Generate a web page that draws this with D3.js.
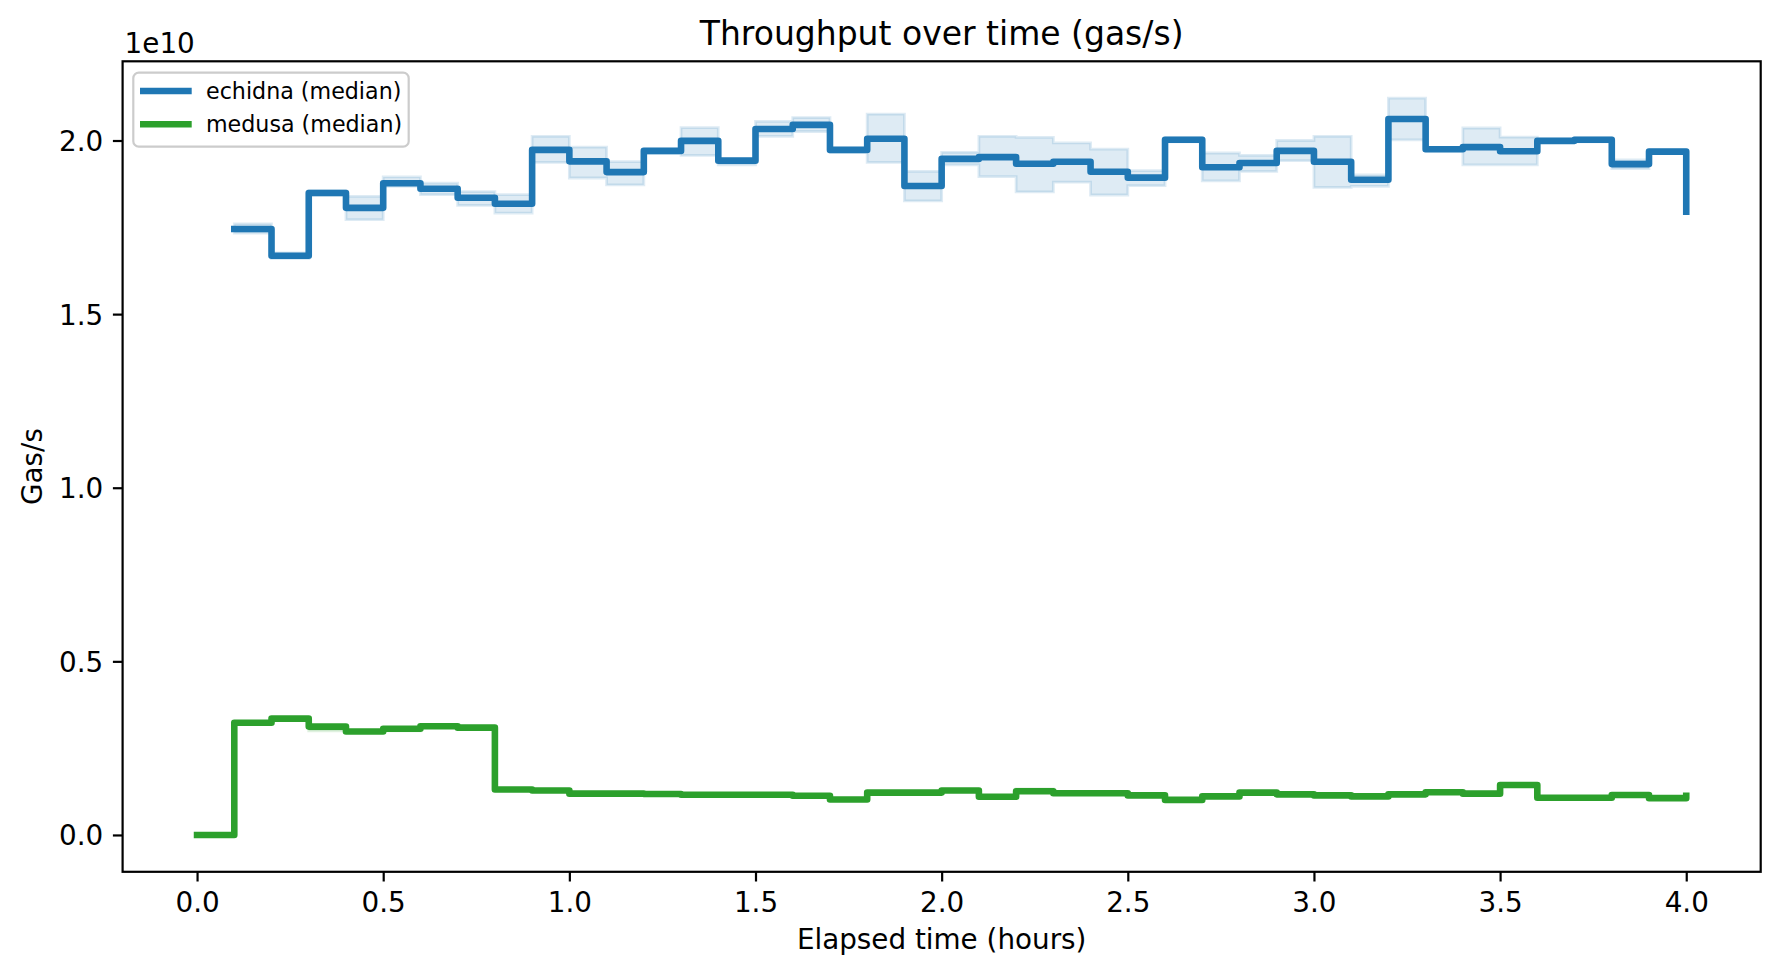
<!DOCTYPE html>
<html>
<head>
<meta charset="utf-8">
<script src="https://cdn.jsdelivr.net/npm/d3@7"></script>
<style>
  html, body { margin: 0; padding: 0; background: #fff; }
  svg { display: block; font-family: "DejaVu Sans", sans-serif; }
</style>
</head>
<body>
<svg id="chart" width="1780" height="978"></svg>
<script>
// ---- data (values in units of 1e10 gas/s) ----
const echidnaTimes = [0.1,0.2,0.3,0.4,0.5,0.6,0.7,0.8,0.9,1.0,1.1,1.2,1.3,1.4,1.5,1.6,1.7,1.8,1.9,2.0,
                      2.1,2.2,2.3,2.4,2.5,2.6,2.7,2.8,2.9,3.0,3.1,3.2,3.3,3.4,3.5,3.6,3.7,3.8,3.9,4.0];
const echidnaMedian = [1.745,1.668,1.849,1.806,1.877,1.861,1.835,1.818,1.973,1.940,1.909,1.970,1.999,1.942,2.033,2.045,1.973,2.005,1.869,1.947,
                       1.952,1.933,1.939,1.910,1.893,2.002,1.923,1.935,1.970,1.939,1.887,2.062,1.975,1.981,1.969,1.999,2.002,1.932,1.968,1.795];
const echidnaLow  = [1.733,1.660,1.843,1.772,1.868,1.844,1.813,1.791,1.937,1.892,1.872,1.962,1.957,1.930,2.012,2.026,1.966,1.937,1.826,1.930,
                     1.896,1.852,1.880,1.843,1.870,1.996,1.884,1.911,1.942,1.865,1.868,2.002,1.970,1.930,1.930,1.994,1.996,1.919,1.963,1.790];
const echidnaHigh = [1.760,1.676,1.856,1.839,1.895,1.877,1.853,1.844,2.012,1.981,1.939,1.975,2.037,1.946,2.055,2.066,1.978,2.076,1.911,1.966,
                     2.012,2.009,1.993,1.975,1.913,2.008,1.964,1.957,2.000,2.012,1.901,2.122,1.980,2.036,2.010,2.004,2.008,1.944,1.974,1.800];

const medusaTimes = [0.0,0.1,0.2,0.3,0.4,0.5,0.6,0.7,0.8,0.9,1.0,1.1,1.2,1.3,1.4,1.5,1.6,1.7,1.8,1.9,2.0,
                     2.1,2.2,2.3,2.4,2.5,2.6,2.7,2.8,2.9,3.0,3.1,3.2,3.3,3.4,3.5,3.6,3.7,3.8,3.9,4.0];
const medusaMedian = [0,0.323,0.335,0.312,0.298,0.306,0.313,0.309,0.131,0.128,0.119,0.119,0.118,0.116,0.116,0.116,0.113,0.102,0.122,0.122,0.128,
                      0.110,0.126,0.120,0.120,0.114,0.101,0.111,0.122,0.117,0.114,0.111,0.117,0.123,0.119,0.144,0.107,0.107,0.115,0.106,0.113];
const medusaLow  = [0,0.320,0.332,0.300,0.295,0.300,0.309,0.306,0.128,0.125,0.117,0.117,0.116,0.114,0.114,0.114,0.111,0.100,0.120,0.120,0.126,
                    0.108,0.123,0.118,0.118,0.112,0.099,0.109,0.120,0.115,0.112,0.109,0.115,0.121,0.117,0.142,0.105,0.105,0.113,0.104,0.111];
const medusaHigh = [0,0.326,0.338,0.315,0.301,0.309,0.316,0.312,0.134,0.131,0.121,0.121,0.120,0.118,0.118,0.118,0.115,0.104,0.124,0.124,0.130,
                    0.112,0.133,0.122,0.122,0.116,0.103,0.113,0.124,0.119,0.116,0.113,0.119,0.125,0.121,0.146,0.109,0.109,0.117,0.108,0.115];

const xTicks = [0.0,0.5,1.0,1.5,2.0,2.5,3.0,3.5,4.0];
const yTicks = [0.0,0.5,1.0,1.5,2.0];
const seriesNames = ["echidna (median)", "medusa (median)"];
const seriesColors = ["#1f77b4", "#2ca02c"];

// ---- layout ----
const L = 122.6, R = 1760.7, T = 61.3, B = 871.8;
const LW = 6.6;
const svg = d3.select("#chart");

const xMin = d3.min(medusaTimes), xMax = d3.max(medusaTimes);
const xPad = 0.05 * (xMax - xMin);
const x = d3.scaleLinear().domain([xMin - xPad, xMax + xPad]).range([L, R]);

const yLo = d3.min([...medusaLow, ...echidnaLow, ...medusaMedian]);
const yHi = d3.max([...echidnaHigh, ...echidnaMedian]);
const yPad = 0.05 * (yHi - yLo);
const y = d3.scaleLinear().domain([yLo - yPad, yHi + yPad]).range([B, T]);

const series = [
  {t: echidnaTimes, m: echidnaMedian, lo: echidnaLow, hi: echidnaHigh, color: seriesColors[0]},
  {t: medusaTimes, m: medusaMedian, lo: medusaLow, hi: medusaHigh, color: seriesColors[1]}
];

svg.append("defs").append("clipPath").attr("id", "clip")
  .append("rect").attr("x", L).attr("y", T).attr("width", R - L).attr("height", B - T);

const plot = svg.append("g").attr("clip-path", "url(#clip)");

const area = d3.area().curve(d3.curveStepAfter)
  .x(d => x(d.t)).y0(d => y(d.lo)).y1(d => y(d.hi));
const line = d3.line().curve(d3.curveStepAfter)
  .x(d => x(d.t)).y(d => y(d.m));

series.forEach(s => {
  const pts = s.t.map((t, i) => ({t, m: s.m[i], lo: s.lo[i], hi: s.hi[i]}));
  s.pts = pts;
  plot.append("path").attr("d", area(pts))
    .attr("fill", s.color).attr("fill-opacity", 0.15)
    .attr("stroke", s.color).attr("stroke-opacity", 0.15).attr("stroke-width", 2.8);
});
series.forEach(s => {
  plot.append("path").attr("d", line(s.pts))
    .attr("fill", "none").attr("stroke", s.color).attr("stroke-width", LW)
    .attr("stroke-linejoin", "round").attr("stroke-linecap", "square");
});

// ---- axes ----
const xAxis = d3.axisBottom(x).tickValues(xTicks).tickFormat(d3.format(".1f")).tickSize(9.7).tickPadding(9.7);
const yAxis = d3.axisLeft(y).tickValues(yTicks).tickFormat(d3.format(".1f")).tickSize(9.7).tickPadding(9.7);

const gx = svg.append("g").attr("transform", `translate(0,${B})`).call(xAxis);
const gy = svg.append("g").attr("transform", `translate(${L},0)`).call(yAxis);
[gx, gy].forEach(g => {
  g.select(".domain").remove();
  g.selectAll(".tick line").attr("stroke", "#000").attr("stroke-width", 2.2);
  g.selectAll(".tick text").attr("fill", "#000").attr("font-size", 27.8)
    .attr("font-family", "DejaVu Sans, sans-serif");
});
gx.selectAll(".tick text").attr("dy", null).attr("y", 40.2);
gy.selectAll(".tick text").attr("dy", "0.36em");

// spines
svg.append("rect").attr("x", L).attr("y", T).attr("width", R - L).attr("height", B - T)
  .attr("fill", "none").attr("stroke", "#000").attr("stroke-width", 2.2);

// offset text
svg.append("text").attr("x", L + 2).attr("y", 52.7).attr("font-size", 27.8).text("1e10");

// title and labels
svg.append("text").attr("x", (L + R) / 2).attr("y", 44.6).attr("text-anchor", "middle")
  .attr("font-size", 33).text("Throughput over time (gas/s)");
svg.append("text").attr("x", (L + R) / 2).attr("y", 949).attr("text-anchor", "middle")
  .attr("font-size", 27.8).text("Elapsed time (hours)");
svg.append("text").attr("transform", `translate(42,${(T + B) / 2}) rotate(-90)`)
  .attr("text-anchor", "middle").attr("font-size", 27.8).text("Gas/s");

// legend
const lg = svg.append("g");
lg.append("rect").attr("x", 133.3).attr("y", 72.7).attr("width", 275.4).attr("height", 74)
  .attr("rx", 5.5).attr("fill", "#fff").attr("fill-opacity", 0.8)
  .attr("stroke", "#cccccc").attr("stroke-width", 2.2);
seriesNames.forEach((name, i) => {
  const yy = 91 + i * 33.3;
  lg.append("line").attr("x1", 140).attr("x2", 191.7).attr("y1", yy).attr("y2", yy)
    .attr("stroke", seriesColors[i]).attr("stroke-width", LW);
  lg.append("text").attr("x", 206).attr("y", yy + 7.6).attr("font-size", 22.2).text(name);
});
</script>
</body>
</html>
